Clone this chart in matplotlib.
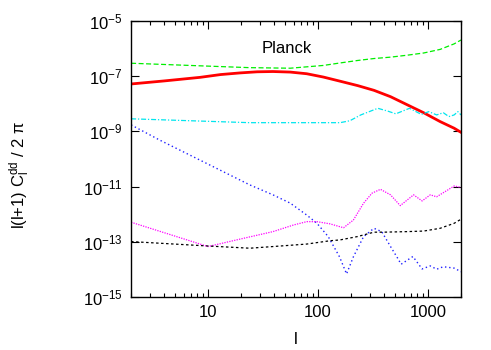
import numpy as np
import matplotlib
matplotlib.use('Agg')
import matplotlib.pyplot as plt
from matplotlib.ticker import FixedLocator, NullLocator, LogLocator, NullFormatter

plt.rcParams['font.family'] = ['Liberation Sans', 'DejaVu Sans']
plt.rcParams['mathtext.fontset'] = 'custom'
plt.rcParams['mathtext.rm'] = 'Liberation Sans'
plt.rcParams['mathtext.it'] = 'Liberation Sans'
plt.rcParams['mathtext.default'] = 'regular'

# multipoles and log10 of l(l+1)C_l/2pi
l_red = [2, 4, 8.5, 13, 19.6, 28, 39, 56, 79, 112, 159, 230, 323, 457, 646, 914, 1290, 1730, 2000]
lg_red = [-7.29, -7.18, -7.05, -6.95, -6.89, -6.85, -6.84, -6.86, -6.92, -7.04, -7.19, -7.35,
          -7.52, -7.75, -8.04, -8.33, -8.65, -8.89, -9.04]

l_green = [2, 8, 24, 56, 112, 159, 230, 323, 457, 646, 914, 1290, 1730, 2000]
lg_green = [-6.54, -6.63, -6.70, -6.72, -6.62, -6.53, -6.44, -6.37, -6.32, -6.25, -6.17, -6.04,
            -5.84, -5.70]

l_cyan = [2, 24, 159, 195, 245, 350, 430, 510, 680, 870, 1020, 1200, 1380, 1550, 1730, 1870, 2000]
lg_cyan = [-8.55, -8.69, -8.69, -8.62, -8.41, -8.17, -8.27, -8.37, -8.17, -8.39, -8.29, -8.41,
           -8.33, -8.47, -8.41, -8.29, -8.41]

l_blue = [2, 3.6, 12.8, 24, 39, 56, 79, 98, 124, 157, 182, 210, 260, 323, 380, 457, 530,
          570, 730, 885, 1050, 1200, 1380, 1730, 2000]
lg_blue = [-8.77, -9.31, -10.40, -10.94, -11.30, -11.60, -12.03, -12.33, -12.81, -13.54,
           -14.16, -13.54, -12.81, -12.51, -12.63, -13.17, -13.59, -13.81, -13.53, -13.98,
           -13.87, -13.99, -13.90, -13.95, -14.08]

l_mag = [2, 10, 19.6, 39, 60, 79, 98, 129, 171, 210, 260, 310, 370, 457, 560, 740, 885,
         1050, 1200, 1520, 1730, 2000]
lg_mag = [-12.29, -13.17, -12.90, -12.63, -12.39, -12.27, -12.27, -12.35, -12.49, -12.21,
          -11.60, -11.24, -11.10, -11.30, -11.69, -11.30, -11.52, -11.30, -11.37, -11.12,
          -10.98, -11.03]

l_black = [2, 10, 24, 39, 79, 129, 159, 228, 323, 395, 646, 914, 1290, 1730, 2000]
lg_black = [-12.99, -13.15, -13.23, -13.17, -13.08, -12.96, -12.93, -12.81, -12.65, -12.65,
            -12.63, -12.61, -12.51, -12.33, -12.18]

yticks = [1e-15, 1e-13, 1e-11, 1e-9, 1e-7, 1e-5]
ytick_labels = [r'10$^{-15}$', r'10$^{-13}$', r'10$^{-11}$', r'10$^{-9}$', r'10$^{-7}$', r'10$^{-5}$']
xticks = [10, 100, 1000]
xtick_labels = ['10', '100', '1000']

fig = plt.figure(figsize=(4.91, 3.5), dpi=100)
ax = fig.add_axes([0.267, 0.151, 0.672, 0.790])

ax.plot(l_green, 10.0 ** np.array(lg_green), color='#00ee00', lw=0.9, ls=(0, (4, 2)))
ax.plot(l_red, 10.0 ** np.array(lg_red), color='#ff0000', lw=2.0)
ax.plot(l_cyan, 10.0 ** np.array(lg_cyan), color='#00e5ee', lw=0.9, ls=(0, (4, 1.5, 1, 1.5)))
ax.plot(l_blue, 10.0 ** np.array(lg_blue), color='#2020ff', lw=1.0, ls=(0, (1, 2)))
ax.plot(l_mag, 10.0 ** np.array(lg_mag), color='#ff00ff', lw=0.9, ls=(0, (1, 1)))
ax.plot(l_black, 10.0 ** np.array(lg_black), color='black', lw=0.9, ls=(0, (2, 2)))

ax.set_xscale('log')
ax.set_yscale('log')
ax.set_xlim(2, 2000)
ax.set_ylim(1e-15, 1e-5)

ax.xaxis.set_major_locator(FixedLocator(xticks))
ax.set_xticklabels(xtick_labels)
ax.xaxis.set_minor_locator(LogLocator(base=10, subs=np.arange(2, 10)))
ax.xaxis.set_minor_formatter(NullFormatter())
ax.yaxis.set_major_locator(FixedLocator(yticks))
ax.set_yticklabels(ytick_labels)
ax.yaxis.set_minor_locator(NullLocator())

ax.tick_params(which='both', direction='in', top=True, right=True, labelsize=12, width=0.8)
ax.tick_params(which='major', length=6, pad=6)
ax.tick_params(which='minor', length=3)
for s in ax.spines.values():
    s.set_linewidth(1.0)

ax.text(0.473, 0.90, 'Planck', transform=ax.transAxes, ha='center', va='center', fontsize=12)
ax.set_xlabel('l', fontsize=12, labelpad=8)
fig.text(0.040, 0.5, r'l(l+1) C$_{l}^{dd}$ / 2 π', rotation=90, ha='center', va='center', fontsize=12)

fig.savefig('out.png', dpi=100)
